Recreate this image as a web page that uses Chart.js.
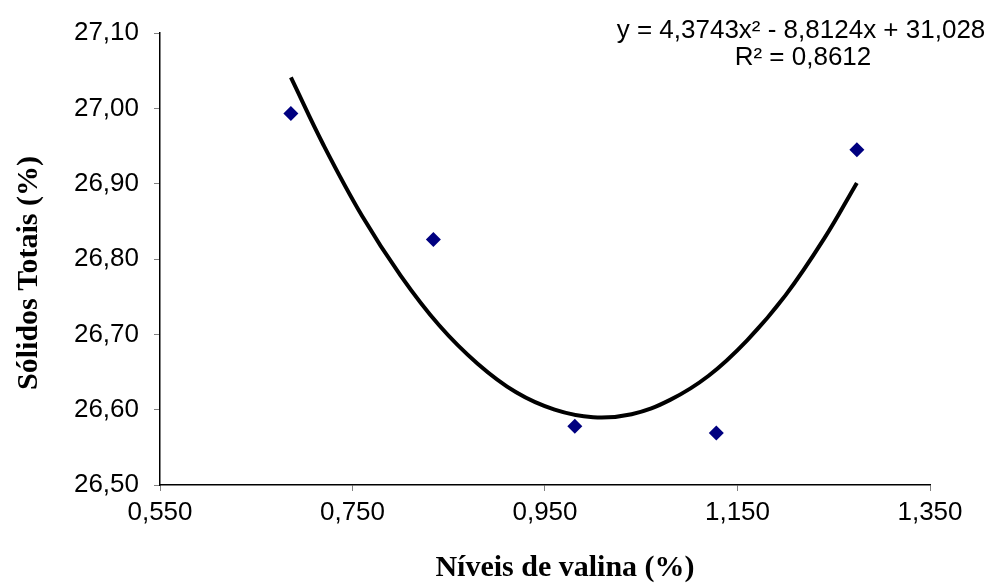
<!DOCTYPE html>
<html>
<head>
<meta charset="utf-8">
<script src="https://cdn.jsdelivr.net/npm/chart.js@4.4.0/dist/chart.umd.min.js"></script>
<style>
  html, body { margin: 0; padding: 0; background: #fff; }
  #wrap { width: 998px; height: 585px; }
</style>
</head>
<body>
<div id="wrap"><canvas id="mycanvas" width="998" height="585"></canvas></div>
<script>
// observed points (x = valine level, y = total solids)
var nivelX = [0.686, 0.834, 0.981, 1.128, 1.274];
var solidosY = [26.993, 26.826, 26.578, 26.569, 26.945];

// trend curve
var curvaX = [0.686, 0.72, 0.76, 0.80, 0.84, 0.88, 0.92, 0.96, 1.00, 1.04, 1.08, 1.12, 1.16, 1.20, 1.24, 1.274];
var curvaY = [27.041, 26.951, 26.857, 26.778, 26.712, 26.661, 26.623, 26.600, 26.590, 26.594, 26.613, 26.645, 26.692, 26.752, 26.827, 26.901];

var equacao = 'y = 4,3743x\u00B2 - 8,8124x + 31,028';
var r2 = 'R\u00B2 = 0,8612';
var tituloX = 'Níveis de valina (%)';
var tituloY = 'Sólidos Totais (%)';

var pontos = [];
for (var i = 0; i < nivelX.length; i++) {
    pontos.push({x: nivelX[i], y: solidosY[i]});
}
var curva = [];
for (var j = 0; j < curvaX.length; j++) {
    curva.push({x: curvaX[j], y: curvaY[j]});
}

var fonteNum = '"Liberation Sans", Arial, sans-serif';

var textos = {
    id: 'textos',
    afterDraw: function (chart) {
        var c = chart.ctx;
        c.save();
        c.fillStyle = '#000';
        c.textAlign = 'center';
        c.textBaseline = 'middle';
        c.font = '26px ' + fonteNum;
        c.fillText(equacao, 801, 31);
        c.fillText(r2, 803, 58);

        c.font = 'bold 30px "Liberation Serif", "Times New Roman", serif';
        c.fillText(tituloX, 565, 568);

        c.translate(29, 273);
        c.rotate(-Math.PI / 2);
        c.fillText(tituloY, 0, 0);
        c.restore();
    }
};

var ctx = document.getElementById('mycanvas');
var grafico = new Chart(ctx, {
    type: 'scatter',
    data: {
        datasets: [{
            label: 'Sólidos',
            data: pontos,
            pointStyle: 'rectRot',
            pointRadius: 7.5,
            pointHoverRadius: 7.5,
            backgroundColor: '#000080',
            borderColor: '#000080',
            borderWidth: 0,
            showLine: false
        }, {
            label: 'Polinomial',
            data: curva,
            showLine: true,
            borderColor: '#000',
            borderWidth: 4,
            pointRadius: 0,
            tension: 0.4,
            fill: false
        }]
    },
    options: {
        responsive: false,
        animation: false,
        layout: { padding: { left: 0, right: 68, top: 33, bottom: 0 } },
        plugins: {
            legend: { display: false },
            tooltip: { enabled: false }
        },
        scales: {
            x: {
                type: 'linear',
                min: 0.55,
                max: 1.35,
                ticks: {
                    stepSize: 0.2,
                    padding: 6,
                    color: '#000',
                    font: { family: fonteNum, size: 26 },
                    callback: function (v) { return v.toFixed(3).replace('.', ','); }
                },
                grid: { drawOnChartArea: false, color: '#808080', tickLength: 6 },
                border: { color: '#000', width: 1.5 },
                afterFit: function (s) { s.height = 100; }
            },
            y: {
                min: 26.5,
                max: 27.1,
                ticks: {
                    stepSize: 0.1,
                    padding: 15,
                    color: '#000',
                    font: { family: fonteNum, size: 26 },
                    callback: function (v) { return v.toFixed(2).replace('.', ','); }
                },
                grid: { drawOnChartArea: false, color: '#808080', tickLength: 6 },
                border: { color: '#000', width: 1.5 },
                afterFit: function (s) { s.width = 160; }
            }
        }
    },
    plugins: [textos]
});
</script>
</body>
</html>
